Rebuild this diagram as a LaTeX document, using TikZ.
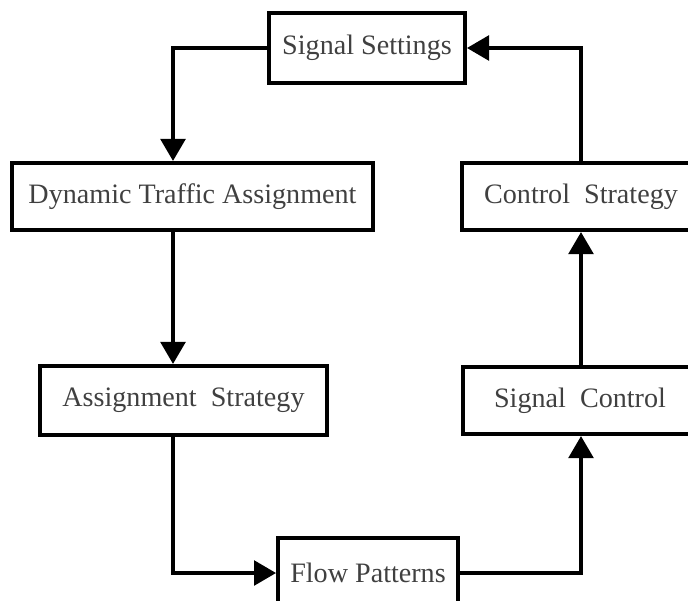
\documentclass[tikz,border=0pt]{standalone}
\usepackage{fontspec}
\setmainfont{Liberation Serif}
\usetikzlibrary{
    arrows.meta,
    positioning
}

\begin{document}
\begin{tikzpicture}[
    x=0.025cm, y=-0.025cm,
    box/.style={rectangle, draw, line width=2.8pt, inner sep=0pt, text=black!75,
        font=\fontsize{20}{24}\selectfont},
    flowline/.style={line width=2.3pt, -{Triangle[length=0.55cm, width=0.62cm]}}
]
% Frame of the figure
\path[use as bounding box, clip] (0,0) rectangle (688,600);

% Boxes
\node[box, minimum width=4.9cm, minimum height=1.75cm] (settings) at (367,48) {Signal Settings};
\node[box, minimum width=9.03cm, minimum height=1.68cm] (dta) at (192.5,196.5) {Dynamic Traffic Assignment};
\node[box, minimum width=7.18cm, minimum height=1.73cm] (assign) at (183.5,400.5) {Assignment\ \ Strategy};
\node[box, minimum width=4.5cm, minimum height=1.75cm] (flow) at (368,573) {Flow Patterns};
\node[box, minimum width=5.85cm, minimum height=1.68cm] (signal) at (580,400.5) {Signal\ \ Control};
\node[box, minimum width=5.95cm, minimum height=1.68cm] (control) at (581,196.5) {Control\ \ Strategy};

% Rails of the loop
\coordinate (leftrail) at (173,0);
\coordinate (rightrail) at (581,0);

% Left side, going down
\draw[flowline] (settings.west) -| (leftrail |- dta.north);
\draw[flowline] (leftrail |- dta.south) -- (leftrail |- assign.north);
\draw[flowline] (leftrail |- assign.south) |- (flow.west);

% Right side, going up
\draw[flowline] (flow.east) -| (rightrail |- signal.south);
\draw[flowline] (rightrail |- signal.north) -- (rightrail |- control.south);
\draw[flowline] (rightrail |- control.north) |- (settings.east);
\end{tikzpicture}
\end{document}
